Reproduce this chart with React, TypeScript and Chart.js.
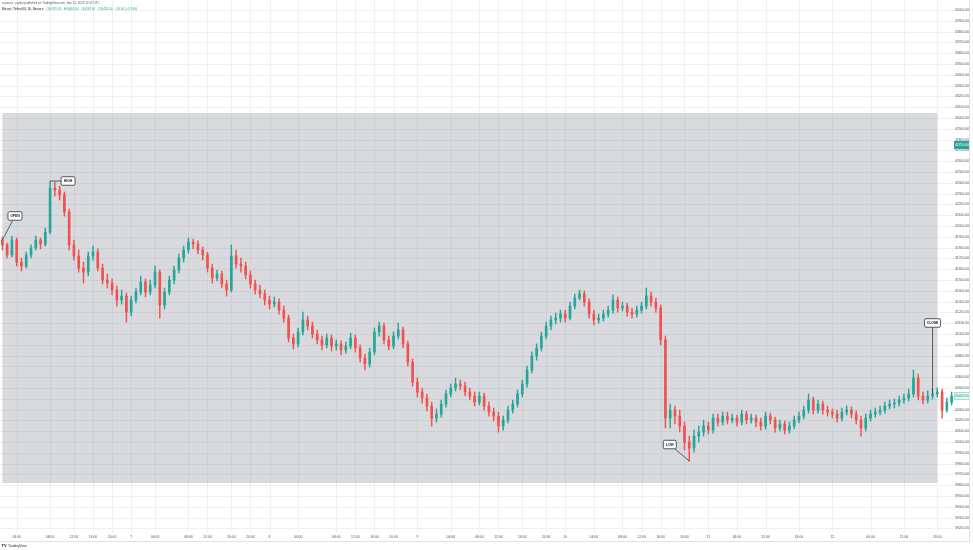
import React, { useEffect, useRef } from "react";
import { Chart, registerables } from "chart.js";
Chart.register(...registerables);

// ---------- data ----------
const opens = [
  41871, 41825, 41732, 41871, 41666, 41629, 41732, 41797, 41871, 41834,
  41944, 42352, 42334, 42288, 42129, 41825, 41722, 41611, 41574, 41722,
  41759, 41611, 41500, 41472, 41408, 41315, 41352, 41203, 41315, 41389,
  41481, 41389, 41454, 41574, 41269, 41389, 41500, 41593, 41704, 41778,
  41852, 41834, 41778, 41732, 41611, 41519, 41556, 41463, 41408, 41722,
  41648, 41629, 41547, 41463, 41408, 41371, 41315, 41278, 41296, 41222,
  41148, 40963, 40908, 41018, 41130, 41074, 41000, 40945, 40899, 40963,
  40889, 40908, 40852, 40889, 40963, 40871, 40778, 40722, 40833, 41018,
  41074, 40945, 40889, 40981, 41037, 40908, 40740, 40555, 40463, 40408,
  40333, 40222, 40259, 40352, 40445, 40500, 40537, 40518, 40463, 40426,
  40370, 40426, 40333, 40277, 40240, 40148, 40204, 40296, 40352, 40445,
  40537, 40667, 40796, 40871, 40981, 41074, 41130, 41148, 41185, 41148,
  41259, 41334, 41371, 41296, 41185, 41130, 41148, 41185, 41222, 41315,
  41241, 41259, 41203, 41185, 41222, 41259, 41352, 41296, 41241, 40945,
  40222, 40296, 40240, 40148, 40000, 39945, 40055, 40092, 40148, 40111,
  40222, 40185, 40240, 40204, 40222, 40185, 40259, 40204, 40222, 40185,
  40148, 40240, 40204, 40130, 40167, 40111, 40148, 40204, 40240, 40296,
  40389, 40296, 40352, 40296, 40277, 40259, 40222, 40277, 40296, 40259,
  40204, 40130, 40222, 40259, 40277, 40296, 40333, 40352, 40361, 40389,
  40408, 40445, 40593, 40426, 40389, 40426, 40445, 40463, 40296, 40370,
];
const highs = [
  41898, 41843, 41907, 41889, 41704, 41759, 41825, 41907, 41889, 41982,
  42417, 42407, 42370, 42315, 42158, 41871, 41778, 41666, 41759, 41815,
  41788, 41648, 41556, 41510, 41444, 41408, 41380, 41352, 41426, 41537,
  41510, 41500, 41629, 41593, 41426, 41537, 41629, 41741, 41815, 41889,
  41880, 41862, 41806, 41759, 41648, 41593, 41584, 41500, 41825, 41778,
  41704, 41666, 41584, 41500, 41454, 41408, 41352, 41343, 41325, 41259,
  41176, 41000, 41056, 41203, 41166, 41111, 41037, 40981, 41000, 40991,
  40945, 40936, 40926, 41009, 40991, 40899, 40815, 40871, 41056, 41111,
  41102, 40981, 41018, 41102, 41065, 40936, 40769, 40593, 40500, 40445,
  40370, 40306, 40389, 40482, 40537, 40593, 40574, 40555, 40500, 40463,
  40463, 40454, 40370, 40315, 40277, 40240, 40333, 40389, 40482, 40574,
  40703, 40833, 40908, 41018, 41111, 41166, 41194, 41222, 41222, 41296,
  41371, 41408, 41399, 41325, 41222, 41185, 41222, 41259, 41362, 41343,
  41296, 41287, 41241, 41259, 41296, 41426, 41389, 41334, 41269, 40981,
  40352, 40333, 40296, 40185, 40055, 40111, 40148, 40204, 40185, 40259,
  40259, 40277, 40277, 40259, 40250, 40296, 40287, 40259, 40250, 40222,
  40277, 40268, 40231, 40204, 40195, 40185, 40240, 40277, 40333, 40445,
  40417, 40389, 40380, 40333, 40306, 40296, 40315, 40333, 40324, 40287,
  40240, 40259, 40296, 40315, 40333, 40370, 40389, 40399, 40426, 40445,
  40491, 40667, 40630, 40463, 40473, 40491, 40500, 40491, 40408, 40463,
];
const lows = [
  41778, 41704, 41713, 41629, 41584, 41611, 41704, 41778, 41788, 41815,
  41926, 42278, 42241, 42092, 41778, 41685, 41574, 41472, 41537, 41685,
  41584, 41463, 41426, 41362, 41259, 41278, 41111, 41166, 41287, 41362,
  41343, 41362, 41426, 41148, 41232, 41362, 41463, 41565, 41666, 41750,
  41788, 41741, 41685, 41574, 41472, 41491, 41426, 41352, 41389, 41611,
  41574, 41510, 41426, 41371, 41334, 41269, 41232, 41250, 41185, 41111,
  40926, 40862, 40880, 40991, 41037, 40963, 40908, 40852, 40871, 40843,
  40852, 40806, 40824, 40862, 40833, 40740, 40667, 40694, 40806, 40981,
  40908, 40852, 40862, 40954, 40871, 40703, 40518, 40417, 40361, 40287,
  40148, 40185, 40231, 40324, 40417, 40473, 40482, 40426, 40389, 40333,
  40343, 40296, 40240, 40195, 40092, 40111, 40176, 40268, 40324, 40417,
  40509, 40639, 40759, 40843, 40954, 41037, 41093, 41111, 41111, 41130,
  41232, 41315, 41259, 41148, 41084, 41102, 41121, 41157, 41194, 41203,
  41213, 41166, 41148, 41157, 41194, 41232, 41259, 41203, 40899, 40130,
  40130, 40167, 40092, 39926, 39824, 39907, 40000, 40055, 40074, 40083,
  40148, 40158, 40167, 40176, 40148, 40158, 40167, 40176, 40139, 40111,
  40121, 40167, 40092, 40102, 40074, 40083, 40121, 40176, 40213, 40268,
  40259, 40268, 40259, 40240, 40222, 40185, 40195, 40250, 40222, 40167,
  40055, 40102, 40195, 40231, 40250, 40268, 40306, 40315, 40333, 40361,
  40380, 40417, 40389, 40352, 40361, 40399, 40417, 40222, 40277, 40343,
];
const closes = [
  41825, 41732, 41871, 41666, 41629, 41732, 41797, 41871, 41834, 41944,
  42352, 42334, 42288, 42129, 41825, 41722, 41611, 41574, 41722, 41759,
  41611, 41500, 41472, 41408, 41315, 41352, 41203, 41315, 41389, 41481,
  41389, 41454, 41574, 41269, 41389, 41500, 41593, 41704, 41778, 41852,
  41834, 41778, 41732, 41611, 41519, 41556, 41463, 41408, 41722, 41648,
  41629, 41547, 41463, 41408, 41371, 41315, 41278, 41296, 41222, 41148,
  40963, 40908, 41018, 41130, 41074, 41000, 40945, 40899, 40963, 40889,
  40908, 40852, 40889, 40963, 40871, 40778, 40722, 40833, 41018, 41074,
  40945, 40889, 40981, 41037, 40908, 40740, 40555, 40463, 40408, 40333,
  40222, 40259, 40352, 40445, 40500, 40537, 40518, 40463, 40426, 40370,
  40426, 40333, 40277, 40240, 40148, 40204, 40296, 40352, 40445, 40537,
  40667, 40796, 40871, 40981, 41074, 41130, 41148, 41185, 41148, 41259,
  41334, 41371, 41296, 41185, 41130, 41148, 41185, 41222, 41315, 41241,
  41259, 41203, 41185, 41222, 41259, 41352, 41296, 41241, 40945, 40222,
  40296, 40240, 40148, 40000, 39945, 40055, 40092, 40148, 40111, 40222,
  40185, 40240, 40204, 40222, 40185, 40259, 40204, 40222, 40185, 40148,
  40240, 40204, 40130, 40167, 40111, 40148, 40204, 40240, 40296, 40389,
  40296, 40352, 40296, 40277, 40259, 40222, 40277, 40296, 40259, 40204,
  40130, 40222, 40259, 40277, 40296, 40333, 40352, 40361, 40389, 40408,
  40445, 40593, 40426, 40389, 40426, 40445, 40463, 40296, 40370, 40426,
];

const xTickIndex = [3, 10, 15, 19, 23, 27, 32, 39, 43, 48, 52, 56, 62, 70, 74, 78, 82, 87, 94, 100, 104, 109, 114, 118, 124, 130, 134, 138, 143, 148, 154, 160, 167, 174, 182, 189, 196];
const xTickText = [
  "04:00", "08:00", "12:00", "16:00", "20:00", "7", "04:00", "08:00", "12:00", "16:00", "20:00", "8",
  "04:00", "08:00", "12:00", "16:00", "20:00", "9", "04:00", "08:00", "12:00", "16:00", "20:00", "10",
  "04:00", "08:00", "12:00", "16:00", "20:00", "11", "06:00", "12:00", "18:00", "12", "06:00", "12:00", "18:00",
];

// date & price range box
const rangeFromIndex = 0;
const rangeToIndex = 196;
const rangeTop = 43047;
const rangeBottom = 39620;

// callouts
const callLabels = ["OPEN", "HIGH", "LOW", "CLOSE"];
const callIndex = [0, 10, 144, 195];
const callValue = [41871, 42417, 39824, 40445];

const markerPrice = 42750;

const titleText = "ecavans_capital published on TradingView.com, Dec 11, 2023 17:07 UTC";
const symbolText = "Bitcoin / TetherUS, 30, Binance";
const ohlcText = ["O40370.00", "H40463.00", "L40343.00", "C40426.00", "+56.00 (+0.14%)"];

// ---------- styles ----------
const UP = "#26a69a";
const DOWN = "#ef5350";
const GRID = "#eef0f4";
const FONT = '"Liberation Sans", Arial, sans-serif';
const CALL_DX = [12.6, 18, -19.5, 0];
const CALL_DY = [-24, 0, -16.5, -71];
const CALL_W = [14, 14, 13, 16];

const tvPlugin = {
  id: "tvDecor",
  beforeDraw(chart: any) {
    const { ctx, width, height } = chart;
    ctx.save();
    ctx.fillStyle = "#ffffff";
    ctx.fillRect(0, 0, width, height);
    ctx.restore();
  },
  beforeDatasetsDraw(chart: any) {
    const { ctx, chartArea: a } = chart;
    const x = chart.scales.x;
    const y = chart.scales.y;
    ctx.save();
    ctx.strokeStyle = GRID;
    ctx.lineWidth = 1;
    ctx.beginPath();
    y.ticks.forEach((t: any) => {
      const py = Math.round(y.getPixelForValue(t.value)) + 0.5;
      ctx.moveTo(a.left, py);
      ctx.lineTo(a.right, py);
    });
    xTickIndex.forEach((i) => {
      const px = Math.round(x.getPixelForValue(i)) + 0.5;
      ctx.moveTo(px, a.top);
      ctx.lineTo(px, a.bottom);
    });
    ctx.stroke();
    const x0 = x.getPixelForValue(rangeFromIndex);
    const x1 = x.getPixelForValue(rangeToIndex);
    const y0 = y.getPixelForValue(rangeTop);
    const y1 = y.getPixelForValue(rangeBottom);
    ctx.fillStyle = "rgba(120,123,134,0.28)";
    ctx.fillRect(x0, y0, x1 - x0, y1 - y0);
    ctx.restore();
  },
  afterDatasetsDraw(chart: any) {
    const { ctx, chartArea: a } = chart;
    const x = chart.scales.x;
    const y = chart.scales.y;
    ctx.save();

    // callouts
    callLabels.forEach((txt, k) => {
      const ax = x.getPixelForValue(callIndex[k]);
      const ay = y.getPixelForValue(callValue[k]);
      const cx = ax + CALL_DX[k];
      const cy = ay + CALL_DY[k];
      const w = CALL_W[k];
      const h = 8.5;
      const dx = ax - cx;
      const dy = ay - cy;
      const s = Math.min(dx ? w / 2 / Math.abs(dx) : Infinity, dy ? h / 2 / Math.abs(dy) : Infinity);
      const ex = cx + dx * s;
      const ey = cy + dy * s;
      ctx.strokeStyle = "#4a4e5a";
      ctx.lineWidth = 0.9;
      ctx.beginPath();
      ctx.moveTo(ax, ay);
      ctx.lineTo(ex, ey);
      ctx.stroke();
      ctx.beginPath();
      ctx.roundRect(cx - w / 2, cy - h / 2, w, h, 1.5);
      ctx.fillStyle = "#ffffff";
      ctx.fill();
      ctx.strokeStyle = "#2a2e39";
      ctx.lineWidth = 0.8;
      ctx.stroke();
      ctx.fillStyle = "#131722";
      ctx.font = `bold 3.4px ${FONT}`;
      ctx.textAlign = "center";
      ctx.textBaseline = "middle";
      ctx.fillText(txt, cx, cy + 0.2);
    });

    // price scale labels
    ctx.font = `3.4px ${FONT}`;
    ctx.fillStyle = "#50535e";
    ctx.textAlign = "center";
    ctx.textBaseline = "middle";
    y.ticks.forEach((t: any) => {
      ctx.fillText(t.value.toFixed(2), 962, y.getPixelForValue(t.value));
    });

    // marker tag
    const my = y.getPixelForValue(markerPrice);
    ctx.fillStyle = UP;
    ctx.fillRect(954, my - 4, 16, 8);
    ctx.fillStyle = "#ffffff";
    ctx.fillText(markerPrice.toFixed(2), 962, my + 0.2);

    // last price tag
    const last = closes[closes.length - 1];
    const ly = y.getPixelForValue(last);
    ctx.fillStyle = "#e3f4f1";
    ctx.fillRect(954, ly - 4, 16, 8);
    ctx.strokeStyle = "#8fd3c9";
    ctx.lineWidth = 0.7;
    ctx.strokeRect(954.5, ly - 3.5, 15, 7);
    ctx.fillStyle = UP;
    ctx.fillText(last.toFixed(2), 962, ly + 0.2);

    // time labels
    ctx.fillStyle = "#50535e";
    xTickIndex.forEach((i, k) => {
      ctx.fillText(xTickText[k], x.getPixelForValue(i), a.bottom + 5.5);
    });

    // borders
    ctx.strokeStyle = "#e0e3eb";
    ctx.lineWidth = 1;
    ctx.beginPath();
    ctx.moveTo(0, 541.5);
    ctx.lineTo(970, 541.5);
    ctx.moveTo(969.5, 0);
    ctx.lineTo(969.5, 542);
    ctx.stroke();

    // header
    ctx.textAlign = "left";
    ctx.font = `3px ${FONT}`;
    ctx.fillStyle = "#50535e";
    ctx.fillText(titleText, 2, 3.5);
    ctx.fillStyle = "#131722";
    ctx.fillText(symbolText, 2, 9.5);
    let tx = 2 + ctx.measureText(symbolText).width + 3;
    ctx.fillStyle = UP;
    ohlcText.forEach((s) => {
      ctx.fillText(s, tx, 9.5);
      tx += ctx.measureText(s).width + 2.5;
    });

    // logo
    ctx.fillStyle = "#131722";
    ctx.font = `bold 4px ${FONT}`;
    ctx.fillText("TV", 1.5, 546);
    ctx.font = `3.4px ${FONT}`;
    ctx.fillStyle = "#2a2e39";
    ctx.fillText("TradingView", 8, 546);

    ctx.restore();
  },
};

export default function App() {
  const ref = useRef<HTMLCanvasElement>(null);
  useEffect(() => {
    const colors = closes.map((c, i) => (c >= opens[i] ? UP : DOWN));
    const chart = new Chart(ref.current as HTMLCanvasElement, {
      type: "bar",
      data: {
        labels: opens.map((_, i) => String(i)),
        datasets: [
          {
            label: "body",
            data: opens.map((o, i) => [o, closes[i]]) as any,
            backgroundColor: colors,
            borderWidth: 0,
            grouped: false,
            barPercentage: 1,
            categoryPercentage: 1,
            maxBarThickness: 2,
            minBarLength: 1,
            order: 1,
          } as any,
          {
            label: "wick",
            data: lows.map((l, i) => [l, highs[i]]) as any,
            backgroundColor: colors,
            borderWidth: 0,
            grouped: false,
            barPercentage: 1,
            categoryPercentage: 1,
            maxBarThickness: 0.8,
            order: 2,
          } as any,
        ],
      },
      options: {
        animation: false,
        responsive: false,
        maintainAspectRatio: false,
        layout: { padding: 0 },
        plugins: { legend: { display: false }, tooltip: { enabled: false } },
        scales: {
          x: {
            type: "category",
            offset: true,
            grid: { display: false },
            border: { display: false },
            ticks: { display: false },
            afterFit: (s: any) => {
              s.height = 18;
            },
          },
          y: {
            position: "right",
            min: 39167,
            max: 44093,
            grid: { display: false },
            border: { display: false },
            ticks: { display: false, stepSize: 100, includeBounds: false, autoSkip: false },
            afterFit: (s: any) => {
              s.width = 19;
            },
          },
        },
      } as any,
      plugins: [tvPlugin],
    });
    return () => chart.destroy();
  }, []);
  return (
    <div style={{ position: "fixed", left: 0, top: 0, width: 973, height: 550, background: "#fff" }}>
      <canvas ref={ref} width={973} height={550} style={{ display: "block", width: 973, height: 550 }} />
    </div>
  );
}
